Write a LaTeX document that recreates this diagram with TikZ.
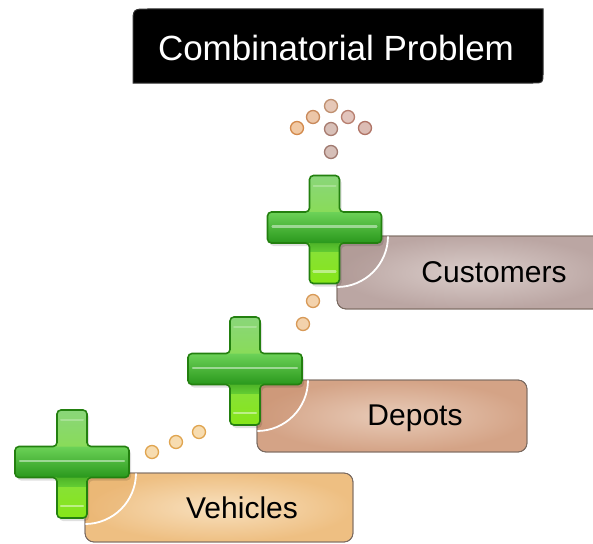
\documentclass[tikz,border=0pt]{standalone}
\usepackage{fontspec}
\setmainfont{Liberation Sans}
\definecolor{crossedge}{HTML}{23800F}
\definecolor{crosstop}{HTML}{8AD67A}
\definecolor{crossmid}{HTML}{4ABD30}
\definecolor{crossbot}{HTML}{86E618}
\definecolor{barTop}{HTML}{6CD258}
\definecolor{barMid}{HTML}{4AC23A}
\definecolor{barBot}{HTML}{2A981C}
\definecolor{boxline}{HTML}{7A6A60}
\definecolor{custIn}{HTML}{DACDCA}
\definecolor{custOut}{HTML}{BBA6A3}
\definecolor{custShade}{HTML}{9E8580}
\definecolor{depIn}{HTML}{E8CBB8}
\definecolor{depOut}{HTML}{D4A386}
\definecolor{depShade}{HTML}{C28460}
\definecolor{vehIn}{HTML}{F8E0BE}
\definecolor{vehOut}{HTML}{EEBF82}
\definecolor{vehShade}{HTML}{E6A85C}
\definecolor{beadAline}{RGB}{224,165,80}
\definecolor{beadAfill}{RGB}{247,220,176}
\definecolor{beadBline}{RGB}{216,154,88}
\definecolor{beadBfill}{RGB}{243,210,172}
\definecolor{c1line}{RGB}{211,138,76}
\definecolor{c1fill}{RGB}{241,201,164}
\definecolor{c2line}{RGB}{201,138,92}
\definecolor{c2fill}{RGB}{236,198,168}
\definecolor{c3line}{RGB}{192,144,112}
\definecolor{c3fill}{RGB}{230,200,184}
\definecolor{c4line}{RGB}{184,128,112}
\definecolor{c4fill}{RGB}{226,196,188}
\definecolor{c5line}{RGB}{176,116,102}
\definecolor{c5fill}{RGB}{220,188,180}
\definecolor{c6line}{RGB}{168,124,112}
\definecolor{c6fill}{RGB}{216,192,184}
\definecolor{c7line}{RGB}{160,122,112}
\definecolor{c7fill}{RGB}{214,191,184}
\tikzset{
  stagebox/.style={draw=boxline, line width=0.8pt, rounded corners=9pt},
  label/.style={anchor=base, font=\fontsize{30}{30}\selectfont, text=black, inner sep=0pt},
  bead/.style={circle, minimum size=13pt, inner sep=0pt, line width=1.3pt},
  arcline/.style={draw=white, line width=1.8pt},
}
% outline of the plus sign, relative to its centre
\newcommand\plusoutline{(-15,-52) -- (15,-52) -- (15,-15.5) -- (57,-15.5) -- (57,15.5) -- (15,15.5) -- (15,56) -- (-15,56) -- (-15,15.5) -- (-57,15.5) -- (-57,-15.5) -- (-15,-15.5) -- cycle}
% green plus sign centred at (#1,#2)
\newcommand\greenplus[2]{%
  \begin{scope}[shift={(#1,#2)}]
    \path[fill=black, opacity=0.12, shift={(2,3)}, rounded corners=4pt] \plusoutline;
    \path[rounded corners=4pt, top color=crosstop, middle color=crossmid, bottom color=crossbot] \plusoutline;
    \path[rounded corners=4pt, top color=barTop, middle color=barMid, bottom color=barBot] (-57,-15.5) rectangle (57,15.5);
    \path[top color=barBot, bottom color=crossmid, opacity=0.6] (-15,15.5) rectangle (15,24);
    \draw[white, opacity=0.45, line width=2.2pt, line cap=round] (-52,-1) -- (52,-1);
    \draw[white, opacity=0.45, line width=2.2pt, line cap=round] (-11,44) -- (11,44);
    \draw[white, opacity=0.25, line width=2pt, line cap=round] (-11,-42) -- (11,-42);
    \draw[crossedge, line width=1.6pt, rounded corners=4pt] \plusoutline;
  \end{scope}}
% stage box from (#1,#2) to (#3,#4), inner/outer colours #5/#6, corner shade #7
\newcommand\stagepanel[7]{%
  \path[stagebox, inner color=#5, outer color=#6] (#1,#2) rectangle (#3,#4);
  \begin{scope}
    \clip[rounded corners=9pt] (#1,#2) rectangle (#3,#4);
    \fill[#7, opacity=0.3] (#1,#2) circle (51);
    \draw[arcline] (#1,#2) circle (51);
  \end{scope}
  \draw[stagebox] (#1,#2) rectangle (#3,#4);}
\begin{document}
\begin{tikzpicture}[x=1pt, y=-1pt]
  \useasboundingbox (0,0) rectangle (593,543);
  \fill[white] (0,0) rectangle (593,543);

  % title banner
  \path[fill=black, draw=black!80, line width=1pt]
    (133,83) -- (133,24) .. controls (133,9) .. (148,9) -- (543,9) -- (543,73) .. controls (543,83) .. (533,83) -- cycle;
  \node[anchor=base, text=white, font=\fontsize{35}{35}\selectfont, inner sep=0pt] (title) at (336,60) {Combinatorial Problem};

  % stage panels
  \stagepanel{337}{236}{610}{309}{custIn}{custOut}{custShade}
  \stagepanel{257}{380}{527}{452}{depIn}{depOut}{depShade}
  \stagepanel{85}{473}{353}{542}{vehIn}{vehOut}{vehShade}

  \node[label] (vehicles) at (242,518) {Vehicles};
  \node[label] (depots) at (415,425) {Depots};
  \node[label] (customers) at (494,282) {Customers};

  % beads between the stages
  \node[bead, draw=beadAline, fill=beadAfill] (a1) at (152,452) {};
  \node[bead, draw=beadAline, fill=beadAfill] (a2) at (176,442) {};
  \node[bead, draw=beadAline, fill=beadAfill] (a3) at (199,432) {};
  \node[bead, draw=beadBline, fill=beadBfill] (b1) at (303,324) {};
  \node[bead, draw=beadBline, fill=beadBfill] (b2) at (313,301) {};

  % beads above the last stage
  \node[bead, draw=c1line, fill=c1fill] (c1) at (297,128) {};
  \node[bead, draw=c2line, fill=c2fill] (c2) at (313,117) {};
  \node[bead, draw=c3line, fill=c3fill] (c3) at (331,106) {};
  \node[bead, draw=c4line, fill=c4fill] (c4) at (348,117) {};
  \node[bead, draw=c5line, fill=c5fill] (c5) at (365,128) {};
  \node[bead, draw=c6line, fill=c6fill] (c6) at (331,129) {};
  \node[bead, draw=c7line, fill=c7fill] (c7) at (331,152) {};

  % plus signs
  \greenplus{324.5}{227.5}
  \greenplus{245}{369}
  \greenplus{72}{462}
\end{tikzpicture}
\end{document}
